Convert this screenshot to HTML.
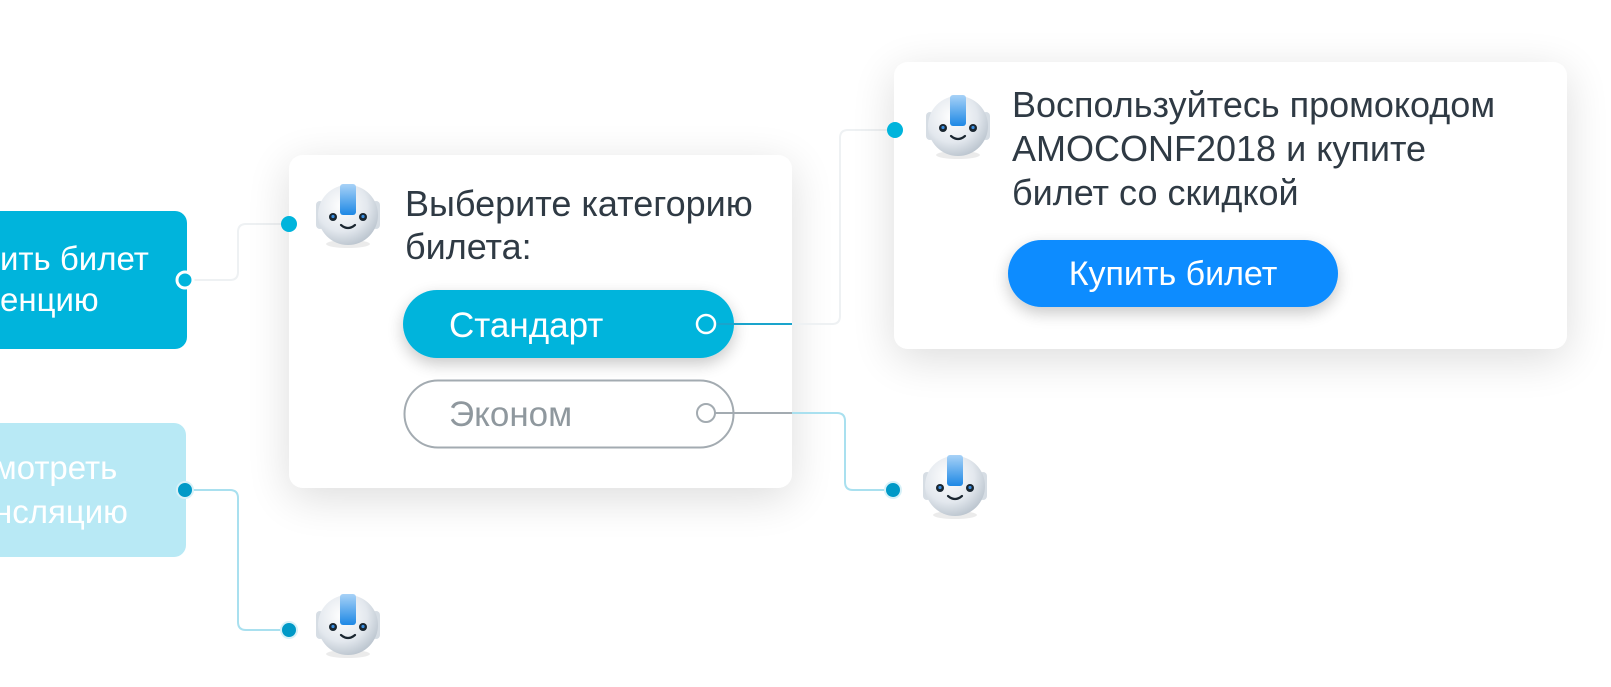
<!DOCTYPE html>
<html><head><meta charset="utf-8"><style>
html,body{margin:0;padding:0;background:#fff;width:1611px;height:687px;overflow:hidden}
svg{display:block}
text{font-family:"Liberation Sans","DejaVu Sans",sans-serif}
</style></head><body>
<svg width="1611" height="687" viewBox="0 0 1611 687" xmlns="http://www.w3.org/2000/svg">
<defs>
<filter id="sh" x="-20%" y="-30%" width="140%" height="160%"><feGaussianBlur in="SourceAlpha" stdDeviation="22"/><feOffset dy="10"/><feComponentTransfer><feFuncA type="linear" slope="0.14"/></feComponentTransfer><feMerge><feMergeNode/><feMergeNode in="SourceGraphic"/></feMerge></filter>
<filter id="sh2" x="-20%" y="-40%" width="140%" height="180%"><feGaussianBlur in="SourceAlpha" stdDeviation="8"/><feOffset dy="6"/><feComponentTransfer><feFuncA type="linear" slope="0.22"/></feComponentTransfer><feMerge><feMergeNode/><feMergeNode in="SourceGraphic"/></feMerge></filter>
<radialGradient id="hg" cx="0.4" cy="0.35" r="0.7"><stop offset="0" stop-color="#ffffff"/><stop offset="0.6" stop-color="#e3e8ee"/><stop offset="1" stop-color="#b8c2cc"/></radialGradient>
<linearGradient id="cg" x1="0" y1="0" x2="0" y2="1"><stop offset="0" stop-color="#a8d2f7"/><stop offset="1" stop-color="#1e88e5"/></linearGradient>
<g id="robot">
<ellipse cx="0" cy="31" rx="22" ry="4" fill="#000" opacity="0.08"/>
<rect x="-32" y="-12" width="8" height="28" rx="4" fill="#d6dde4"/>
<rect x="24" y="-12" width="8" height="28" rx="4" fill="#d6dde4"/>
<circle cx="0" cy="2" r="30" fill="url(#hg)"/>
<rect x="-8" y="-29" width="16" height="31" rx="3" fill="url(#cg)"/>
<circle cx="-15" cy="4" r="4" fill="#1a2630"/><circle cx="-15" cy="3.5" r="1.6" fill="#3a8ee0"/>
<circle cx="15" cy="4" r="4" fill="#1a2630"/><circle cx="15" cy="3.5" r="1.6" fill="#3a8ee0"/>
<path d="M-7 12 Q0 18 7 12" stroke="#1a2630" stroke-width="2.2" fill="none" stroke-linecap="round"/>
</g>
</defs>

<rect x="-20" y="211" width="207" height="138" rx="12" fill="#00b4dc"/>
<text x="0" y="270" font-size="33" fill="#fff">ить билет</text>
<text x="0" y="311" font-size="33" fill="#fff">енцию</text>
<rect x="-20" y="423" width="206" height="134" rx="12" fill="#b8e9f5"/>
<text x="-6" y="479" font-size="33" fill="#fff">мотреть</text>
<text x="-6" y="523" font-size="33" fill="#fff">нсляцию</text>

<path d="M193 280 H230 Q238 280 238 272 V232 Q238 224 246 224 H289" stroke="#eef1f3" stroke-width="2" fill="none"/>
<path d="M193 490 H230 Q238 490 238 498 V622 Q238 630 246 630 H289" stroke="#a9e0ef" stroke-width="2" fill="none"/>

<rect x="289" y="155" width="503" height="333" rx="14" fill="#fff" filter="url(#sh)"/>
<circle cx="185" cy="280" r="8" fill="#00b4dc" stroke="#fff" stroke-width="3"/>
<circle cx="289" cy="224" r="8" fill="#00b4dc"/>
<circle cx="185" cy="490" r="8" fill="#0099c7" stroke="#d7f1f8" stroke-width="2"/>
<circle cx="289" cy="630" r="8" fill="#0099c7" stroke="#d7f1f8" stroke-width="2"/>
<use href="#robot" x="348" y="213"/>
<use href="#robot" x="348" y="623"/>
<text x="405" y="216" font-size="36" fill="#2f3a44">Выберите категорию</text>
<text x="405" y="259" font-size="36" fill="#2f3a44">билета:</text>
<rect x="403" y="290" width="331" height="68" rx="34" fill="#00b4dc" filter="url(#sh2)"/>
<text x="449" y="337" font-size="35" fill="#fff">Стандарт</text>
<rect x="404.5" y="380.5" width="329" height="67" rx="33.5" fill="#fff" stroke="#a3abb1" stroke-width="2"/>
<text x="449" y="426" font-size="35" fill="#8f989e">Эконом</text>

<path d="M715 324 H792" stroke="#1aa4cc" stroke-width="2"/>
<path d="M792 324 H832 Q840 324 840 316 V138 Q840 130 848 130 H895" stroke="#eef1f3" stroke-width="2" fill="none"/>
<path d="M715 413 H792" stroke="#a3abb1" stroke-width="2"/>
<path d="M792 413 H837 Q845 413 845 421 V482 Q845 490 853 490 H893" stroke="#a9e0ef" stroke-width="2" fill="none"/>
<circle cx="706" cy="324" r="9" fill="none" stroke="#fff" stroke-width="2.5"/>
<circle cx="706" cy="413" r="9" fill="#fff" stroke="#a3abb1" stroke-width="2"/>

<rect x="894" y="62" width="673" height="287" rx="14" fill="#fff" filter="url(#sh)"/>
<circle cx="895" cy="130" r="8" fill="#00b4dc"/>
<circle cx="893" cy="490" r="8" fill="#0099c7" stroke="#d7f1f8" stroke-width="2"/>
<use href="#robot" x="958" y="124"/>
<use href="#robot" x="955" y="484"/>
<text x="1012" y="117" font-size="36" fill="#2f3a44">Воспользуйтесь промокодом</text>
<text x="1012" y="161" font-size="36" fill="#2f3a44">AMOCONF2018 и купите</text>
<text x="1012" y="205" font-size="36" fill="#2f3a44">билет со скидкой</text>
<rect x="1008" y="240" width="330" height="67" rx="33.5" fill="#0a8cff" filter="url(#sh2)"/>
<text x="1173" y="285" font-size="34" fill="#fff" text-anchor="middle">Купить билет</text>
</svg>
</body></html>
